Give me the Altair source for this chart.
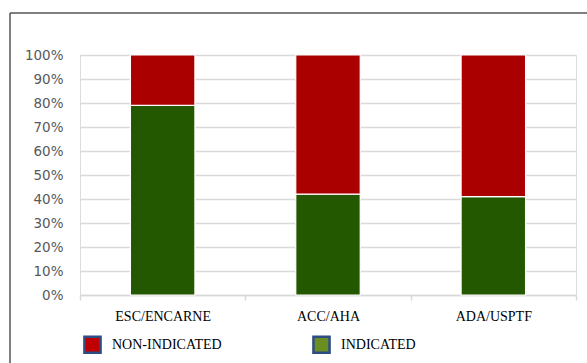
import altair as alt
import pandas as pd

categories = ["ESC/ENCARNE", "ACC/AHA", "ADA/USPTF"]
indicated = [0.79, 0.42, 0.41]
non_indicated = [0.21, 0.58, 0.59]
series = ["NON-INDICATED", "INDICATED"]
bar_colors = ["#aa0000", "#245800"]
legend_colors = ["#c00000", "#6b8e23"]
y_ticks = [0, 0.1, 0.2, 0.3, 0.4, 0.5, 0.6, 0.7, 0.8, 0.9, 1.0]

rows = []
for c, i, n in zip(categories, indicated, non_indicated):
    rows.append({"cat": c, "series": "INDICATED", "value": i, "ord": 0})
    rows.append({"cat": c, "series": "NON-INDICATED", "value": n, "ord": 1})
df = pd.DataFrame(rows)

base = alt.Chart(df)

bars = base.mark_bar(
    width=alt.RelativeBandSize(0.39), stroke="#ffffff", strokeWidth=1.2
).encode(
    x=alt.X("cat:N", sort=categories, title=None,
            scale=alt.Scale(paddingInner=0, paddingOuter=0),
            axis=alt.Axis(labelAngle=0, labelFont="Liberation Serif", labelFontSize=14,
                          labelColor="#000000", tickBand="extent", ticks=True, tickSize=5,
                          tickColor="#d9d9d9", tickWidth=1.5, domainColor="#d9d9d9",
                          domainWidth=1.5, labelPadding=9, grid=False)),
    y=alt.Y("value:Q", stack="zero", title=None,
            scale=alt.Scale(domain=[0, 1], nice=False),
            axis=alt.Axis(values=y_ticks, format=".0%", labelFont="DejaVu Sans",
                          labelFontSize=13.5, labelColor="#595959", ticks=False, domain=False,
                          labelPadding=17, gridColor="#d9d9d9", gridWidth=1.5)),
    color=alt.Color("series:N", scale=alt.Scale(domain=series, range=bar_colors), legend=None),
    order=alt.Order("ord:Q"),
)

legend_layer = base.transform_filter("false").mark_square(
    filled=True, stroke="#2c4d86", strokeWidth=2.5, opacity=1
).encode(
    color=alt.Color("series:N", scale=alt.Scale(domain=series, range=legend_colors),
                    legend=alt.Legend(title=None, orient="none", direction="horizontal",
                                      legendX=3, legendY=280, symbolType="square",
                                      symbolSize=260, labelFont="Liberation Serif",
                                      labelFontSize=14, labelColor="#000000",
                                      labelOffset=10, columnPadding=86,
                                      symbolStrokeColor="#2c4d86", symbolStrokeWidth=2.5))
)

border = alt.Chart(pd.DataFrame({"k": [0]})).mark_rule(color="#555555", strokeWidth=1.5).encode(
    x=alt.value(-70), x2=alt.value(-70), y=alt.value(-42), y2=alt.value(308)
)
border_top = alt.Chart(pd.DataFrame({"k": [0]})).mark_rule(color="#555555", strokeWidth=1.5).encode(
    x=alt.value(-70), x2=alt.value(507), y=alt.value(-42), y2=alt.value(-42)
)

chart = alt.layer(bars, legend_layer, border, border_top).resolve_scale(
    color="independent"
).properties(
    width=496, height=240,
    autosize=alt.AutoSizeParams(type="none"),
    padding={"left": 80, "top": 55, "right": 11, "bottom": 68},
).configure_view(stroke=None).configure(background="#ffffff")

chart.save("out.html", embed_options={"renderer": "svg", "actions": False})
